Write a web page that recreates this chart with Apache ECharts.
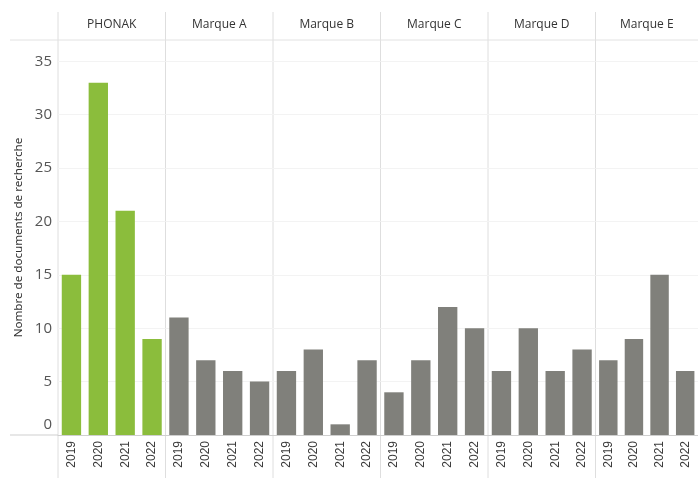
<!DOCTYPE html>
<html>
<head>
<meta charset="utf-8">
<script src="https://cdn.jsdelivr.net/npm/echarts@6/dist/echarts.min.js"></script>
<style>
  html, body { margin: 0; padding: 0; background: #fff; }
  #chart { width: 698px; height: 478px; }
</style>
</head>
<body>
<div id="chart"></div>
<script>
const brands = ['PHONAK', 'Marque A', 'Marque B', 'Marque C', 'Marque D', 'Marque E'];
const years = ['2019', '2020', '2021', '2022'];
const phonak = [15, 33, 21, 9];
const marqueA = [11, 7, 6, 5];
const marqueB = [6, 8, 1, 7];
const marqueC = [4, 7, 12, 10];
const marqueD = [6, 10, 6, 8];
const marqueE = [7, 9, 15, 6];
const values = [phonak, marqueA, marqueB, marqueC, marqueD, marqueE];

const left0 = 58;
const panelW = 107.5;
const plotTop = 40;
const plotH = 395;

const grid = [];
const xAxis = [];
const yAxis = [];
const series = [];
const lines = [];

brands.forEach((b, i) => {
  grid.push({ left: left0 + i * panelW, top: plotTop, width: panelW, height: plotH });

  // bottom: years
  xAxis.push({
    type: 'category',
    gridIndex: i,
    data: years,
    axisLine: { show: true, lineStyle: { color: '#cfcfcf' } },
    axisTick: { show: false },
    axisLabel: {
      rotate: 90,
      margin: 6,
      fontSize: 12,
      color: '#3a3a3a',
      fontFamily: 'Liberation Sans'
    }
  });
  // top: brand header
  xAxis.push({
    type: 'category',
    gridIndex: i,
    position: 'top',
    data: [b],
    axisLine: { show: false },
    axisTick: { show: false },
    axisLabel: { margin: 9, fontSize: 12, color: '#333', fontFamily: 'Open Sans' }
  });

  yAxis.push({
    type: 'value',
    gridIndex: i,
    min: 0,
    max: 37,
    interval: 5,
    axisLine: { show: false },
    axisTick: { show: false },
    splitLine: { showMaxLine: false, lineStyle: { color: '#f3f3f3' } },
    axisLabel: i === 0 ? {
      margin: 6,
      fontSize: 15,
      color: '#555',
      fontFamily: 'Open Sans',
      showMaxLabel: false,
      formatter: v => v === 0 ? '{z|0}' : String(v),
      rich: { z: { fontSize: 15, color: '#555', fontFamily: 'Open Sans', padding: [0, 0, 20, 0] } }
    } : { show: false },
    name: i === 0 ? 'Nombre de documents de recherche' : '',
    nameLocation: 'middle',
    nameGap: 33,
    nameRotate: 90,
    nameTextStyle: { fontSize: 11.6, color: '#333', fontFamily: 'Noto Sans' }
  });

  series.push({
    type: 'bar',
    xAxisIndex: i * 2,
    yAxisIndex: i,
    data: values[i],
    barWidth: '72%',
    itemStyle: { color: i === 0 ? '#8bbd3c' : '#80807b' },
    silent: true
  });

  lines.push({
    type: 'line',
    shape: { x1: left0 + i * panelW, y1: 12, x2: left0 + i * panelW, y2: 478 },
    style: { stroke: '#dedede', lineWidth: 1 }
  });
});

lines.push({
  type: 'line',
  shape: { x1: 10, y1: plotTop, x2: 698, y2: plotTop },
  style: { stroke: '#e2e2e2', lineWidth: 1 }
});
lines.push({
  type: 'line',
  shape: { x1: 10, y1: plotTop + plotH, x2: left0, y2: plotTop + plotH },
  style: { stroke: '#cfcfcf', lineWidth: 1 }
});

const chart = echarts.init(document.getElementById('chart'), null, { renderer: 'canvas' });
chart.setOption({
  animation: false,
  backgroundColor: '#fff',
  grid: grid,
  xAxis: xAxis,
  yAxis: yAxis,
  series: series,
  graphic: lines
});
</script>
</body>
</html>
